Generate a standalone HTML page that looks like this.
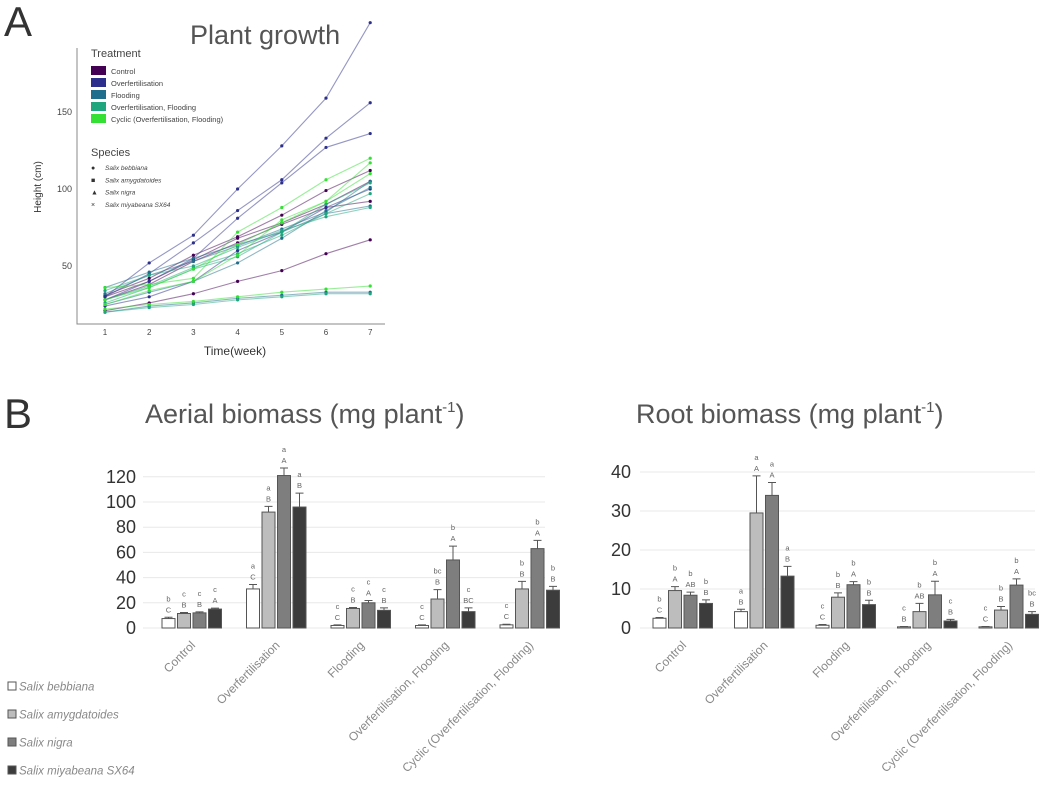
<!DOCTYPE html>
<html><head><meta charset="utf-8"><style>
body{margin:0;background:#fff;font-family:"Liberation Sans",sans-serif}
svg text{font-family:"Liberation Sans",sans-serif}
</style></head><body>
<svg id="s" width="1052" height="791" viewBox="0 0 1052 791" xmlns="http://www.w3.org/2000/svg">
<text x="4" y="36" font-size="42" fill="#333">A</text>
<text x="4" y="428" font-size="42" fill="#333">B</text>
<text x="190" y="44" font-size="27" fill="#555">Plant growth</text>
<g id="lc"></g>
<text x="145" y="423" font-size="27" fill="#555">Aerial biomass (mg plant<tspan font-size="15" dy="-11">-1</tspan><tspan dy="11">)</tspan></text>
<text x="636" y="423" font-size="27" fill="#555">Root biomass (mg plant<tspan font-size="15" dy="-11">-1</tspan><tspan dy="11">)</tspan></text>
<g id="bc"></g>
<g id="lg"></g>
</svg>
<script>
const NS="http://www.w3.org/2000/svg";
function mk(p,t,a){const e=document.createElementNS(NS,t);for(const k in a)e.setAttribute(k,a[k]);p.appendChild(e);return e;}
// ---- line chart data ----
const weeks=[1,2,3,4,5,6,7];
const yTicks=[50,100,150];
const treatments=["Control","Overfertilisation","Flooding","Overfertilisation, Flooding","Cyclic (Overfertilisation, Flooding)"];
const tColors=["#440154","#2c2f8c","#1f6e8c","#1fa67e","#33e033"];
const speciesNames=["Salix bebbiana","Salix amygdatoides","Salix nigra","Salix miyabeana SX64"];
const sControl=[[31,42,57,69,83,99,112],[21,26,32,40,47,58,67],[28,38,53,65,77,88,92],[30,40,54,68,78,90,105]];
const sOverfert=[[30,52,70,100,128,159,208],[30,45,65,86,106,133,156],[28,40,55,81,104,127,136],[24,30,40,60,72,88,100]];
const sFlooding=[[20,24,26,29,31,33,33],[32,44,53,63,74,85,105],[36,46,55,64,72,84,89],[25,33,40,52,68,86,101]];
const sOF=[[20,23,25,28,30,32,32],[34,44,50,62,73,82,88],[26,36,48,56,72,90,104],[28,37,49,58,70,84,97]];
const sCyclic=[[22,25,27,30,33,35,37],[36,38,42,72,88,106,120],[25,34,40,57,80,92,117],[28,36,48,64,78,92,110]];
const allSeries=[sControl,sOverfert,sFlooding,sOF,sCyclic];
const lx=w=>105+(w-1)*44.2, ly=v=>343-1.54*v;
const lc=document.getElementById('lc');
let ax=mk(lc,'path',{d:'M77 48V324H385',stroke:'#888',fill:'none','stroke-width':1});


yTicks.forEach(v=>{const t=mk(lc,'text',{x:72,y:ly(v)+3,'font-size':9,fill:'#444','text-anchor':'end'});t.textContent=v;

});
weeks.forEach(w=>{const t=mk(lc,'text',{x:lx(w),y:335,'font-size':8,fill:'#444','text-anchor':'middle'});t.textContent=w;

});
let xt=mk(lc,'text',{x:235,y:355,'font-size':12,fill:'#333','text-anchor':'middle'});xt.textContent='Time(week)';


let yt=mk(lc,'text',{x:0,y:0,'font-size':10,fill:'#333','text-anchor':'middle',transform:'translate(41,187) rotate(-90)'});yt.textContent='Height (cm)';


allSeries.forEach((grp,ti)=>grp.forEach((ser,si)=>{
 const pl=mk(lc,'polyline',{points:ser.map((v,i)=>lx(weeks[i])+','+ly(v)).join(' '),fill:'none',stroke:tColors[ti],'stroke-opacity':0.5,'stroke-width':1.1});
 
 
 ser.forEach((v,i)=>{const c=mk(lc,'circle',{cx:lx(weeks[i]),cy:ly(v),r:1.6,fill:tColors[ti]});
 
 });
}));
let lt=mk(lc,'text',{x:91,y:57,'font-size':11,fill:'#444'});lt.textContent='Treatment';


treatments.forEach((n,i)=>{const y=66+i*12;
 const r=mk(lc,'rect',{x:91,y:y,width:15,height:9,fill:tColors[i]});
 
 
 const t=mk(lc,'text',{x:111,y:y+8,'font-size':7.5,fill:'#444'});t.textContent=n;
 
 });
let st=mk(lc,'text',{x:91,y:156,'font-size':11,fill:'#444'});st.textContent='Species';


const glyphs=['●','■','▲','×'];
speciesNames.forEach((n,i)=>{const y=170+i*12.3;
 const g=mk(lc,'text',{x:91,y:y,'font-size':7,fill:'#333'});g.textContent=glyphs[i];
 
 
 const t=mk(lc,'text',{x:105,y:y,'font-size':6.5,fill:'#444','font-style':'italic'});t.textContent=n;
 
 });
// ---- bar data ----
const groups=["Control","Overfertilisation","Flooding","Overfertilisation, Flooding","Cyclic (Overfertilisation, Flooding)"];
const aerialVals=[[7.5,11.5,12,15],[31,92,121,96],[2,15.5,20,14],[2,23,54,13],[2.5,31,63,30]];
const aerialErr=[[1,0.8,0.8,0.8],[3.5,4.5,6,11],[0.5,0.8,1.8,2],[0.5,7.5,11,3],[0.5,6,6.5,3]];
const aerialLow=[["b","c","c","c"],["a","a","a","a"],["c","c","c","c"],["c","bc","b","c"],["c","b","b","b"]];
const aerialUp=[["C","B","B","A"],["C","B","A","B"],["C","B","A","B"],["C","B","A","BC"],["C","B","A","B"]];
const aerialTicks=[0,20,40,60,80,100,120];
const rootVals=[[2.5,9.6,8.4,6.3],[4.2,29.5,34,13.3],[0.7,7.9,11.1,6],[0.3,4.2,8.5,1.8],[0.3,4.6,11,3.5]];
const rootErr=[[0.2,1,0.8,0.9],[0.6,9.5,3.3,2.5],[0.2,1.1,0.8,1.1],[0.1,2.1,3.5,0.4],[0.1,0.9,1.6,0.7]];
const rootLow=[["b","b","b","b"],["a","a","a","a"],["c","b","b","b"],["c","b","b","c"],["c","b","b","bc"]];
const rootUp=[["C","A","AB","B"],["B","A","A","B"],["C","B","A","B"],["B","AB","A","B"],["C","B","A","B"]];
const rootTicks=[0,10,20,30,40];
const barFills=["#ffffff","#bdbdbd","#7e7e7e","#3c3c3c"];
const bc=document.getElementById('bc');
function barChart(o){
 const yS=v=>628-v*o.k;
 o.ticks.forEach(v=>{const l=mk(bc,'line',{x1:o.gx0,x2:o.gx1,y1:yS(v),y2:yS(v),stroke:'#e8e8e8','stroke-width':1});
 
 
 const t=mk(bc,'text',{x:o.lx,y:yS(v)+6,'font-size':18,fill:'#333','text-anchor':'end'});t.textContent=v;
 
 });
 o.vals.forEach((gv,gi)=>{const cx=o.c0+gi*o.pitch;
  gv.forEach((v,bi)=>{const x=cx-30+bi*15.5;const top=yS(v);const et=yS(v+o.err[gi][bi]);
   const r=mk(bc,'rect',{x:x,y:top,width:13,height:628-top,fill:barFills[bi],stroke:'#555','stroke-width':1});
   
   
   const e=mk(bc,'path',{d:`M${x+6.5} ${top}V${et}M${x+2.5} ${et}H${x+10.5}`,stroke:'#555','stroke-width':1,fill:'none'});
   
   
   const u=mk(bc,'text',{x:x+6.5,y:et-5,'font-size':7.5,fill:'#666','text-anchor':'middle'});u.textContent=o.up[gi][bi];
   
   
   const l=mk(bc,'text',{x:x+6.5,y:et-16,'font-size':7.5,fill:'#666','text-anchor':'middle'});l.textContent=o.low[gi][bi];
   
   });
  const t=mk(bc,'text',{x:0,y:0,'font-size':12,fill:'#888','text-anchor':'end',transform:`translate(${cx+4},${646}) rotate(-45)`});t.textContent=groups[gi];
  
  });
}
barChart({name:'aerial',vals:aerialVals,err:aerialErr,low:aerialLow,up:aerialUp,ticks:aerialTicks,k:1.26,gx0:143,gx1:545,lx:136,c0:192,pitch:84.5});
barChart({name:'root',vals:rootVals,err:rootErr,low:rootLow,up:rootUp,ticks:rootTicks,k:3.9,gx0:640,gx1:1035,lx:631,c0:683,pitch:81.5});
const lg=document.getElementById('lg');
speciesNames.forEach((n,i)=>{const y=682+i*28;
 const r=mk(lg,'rect',{x:8,y:y,width:8,height:8,fill:barFills[i],stroke:'#555'});
 
 
 const t=mk(lg,'text',{x:19,y:y+8.5,'font-size':11.5,fill:'#888','font-style':'italic'});t.textContent=n;
 
 });
</script>
</body></html>
